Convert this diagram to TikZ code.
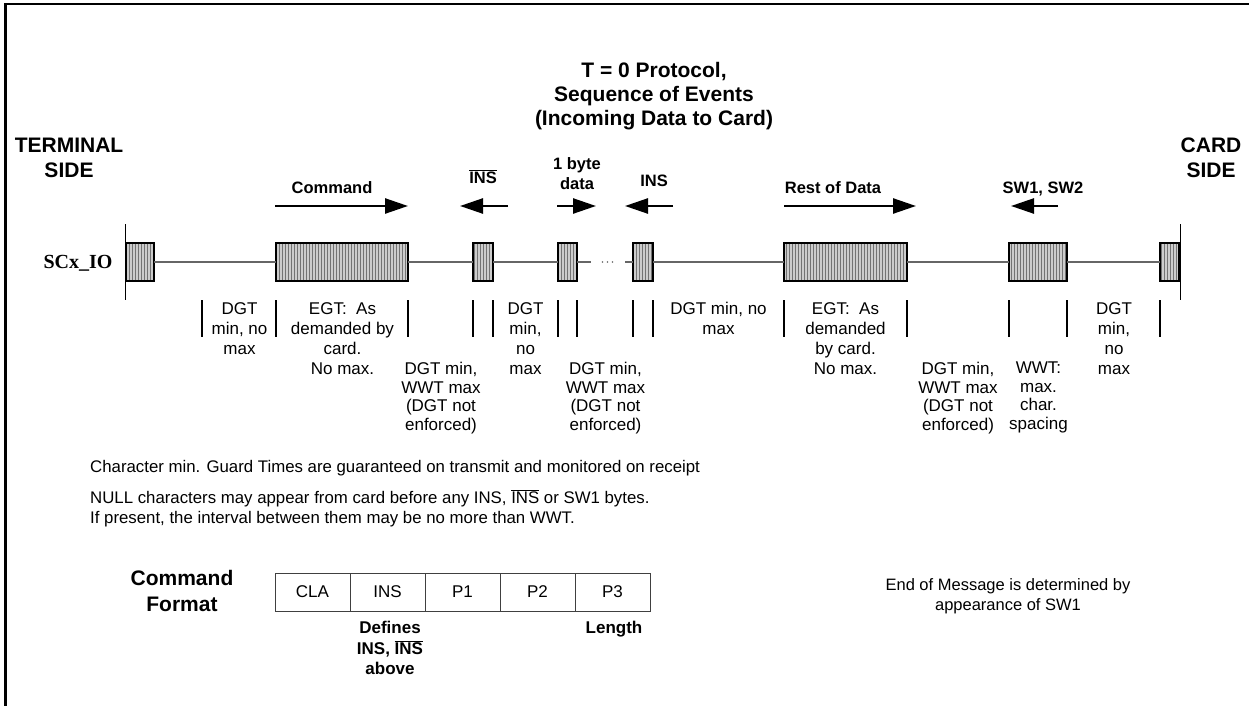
\documentclass[tikz,border=0pt]{standalone}
\usepackage{fontspec}
\setmainfont{Liberation Sans}
\newfontfamily\tmsfont{Liberation Serif}
\usetikzlibrary{arrows.meta,patterns.meta}
\newcommand{\fsz}[2]{\fontsize{#1}{#2}\selectfont}
\newcommand{\ovl}[1]{$\overline{\mbox{#1}}$}
\begin{document}
\begin{tikzpicture}[x=1pt,y=-1pt,
  tl/.style={draw=black!60, line width=1.3},
  databox/.style={draw=black, line width=1.3, inner sep=0, outer sep=0, minimum height=38,
    preaction={fill=black!20}, pattern={Lines[angle=90,distance=3pt,line width=1pt]}, pattern color=black!55},
  sig/.style={line width=2.5, -{Triangle[length=23pt,width=15pt]}},
  tick/.style={line width=1.2},
  blab/.style={font=\bfseries\fsz{16.5}{20}, inner sep=0, align=center},
  ival/.style={font=\fsz{17}{20}, inner sep=0, align=center, anchor=north},
  ivalb/.style={font=\fsz{17}{18.5}, inner sep=0, align=center, anchor=north},
  note/.style={font=\fsz{16.8}{20.5}, inner sep=0, anchor=base west},
  cell/.style={draw=black!75, line width=1, minimum width=75, minimum height=38, inner sep=0, font=\fsz{17}{20}}
]
\useasboundingbox (0,0) rectangle (1249,706);
% frame
\draw[line width=2.2] (5.5,706) -- (5.5,4.3) -- (1249,4.3);

% title
\node[font=\bfseries\fsz{21}{24}, inner sep=0, align=center, anchor=north] (title) at (654,62)
  {T = 0 Protocol,\\Sequence of Events\\(Incoming Data to Card)};
\node[font=\bfseries\fsz{21}{25}, inner sep=0, align=center, anchor=north] (term) at (69,137.5) {TERMINAL\\SIDE};
\node[font=\bfseries\fsz{21}{25}, inner sep=0, align=center, anchor=north] (card) at (1211,137.5) {CARD\\SIDE};
\node[font=\tmsfont\bfseries\fsz{20}{24}, inner sep=0, anchor=base] (scx) at (78,268.6) {SCx\_IO};

% side bars
\coordinate (lbT) at (125,224); \coordinate (lbB) at (125,300);
\coordinate (rbT) at (1180,224); \coordinate (rbB) at (1180,300);
\draw[line width=1] (lbT) -- (lbB);
\draw[line width=1] (rbT) -- (rbB);

% data boxes
\node[databox, minimum width=28] (b1) at (140,262) {};
\node[databox, minimum width=132] (b2) at (342,262) {};
\node[databox, minimum width=20] (b3) at (483,262) {};
\node[databox, minimum width=19] (b4) at (567.5,262) {};
\node[databox, minimum width=20] (b5) at (643,262) {};
\node[databox, minimum width=123] (b6) at (845.5,262) {};
\node[databox, minimum width=58] (b7) at (1038,262) {};
\node[databox, minimum width=19] (b8) at (1169.5,262) {};

% timeline
\coordinate (g1) at (591,262); \coordinate (g2) at (625,262);
\draw[tl] (b1.east) -- (b2.west);
\draw[tl] (b2.east) -- (b3.west);
\draw[tl] (b3.east) -- (b4.west);
\draw[tl] (b4.east) -- (g1);
\draw[tl] (g2) -- (b5.west);
\draw[tl] (b5.east) -- (b6.west);
\draw[tl] (b6.east) -- (b7.west);
\draw[tl] (b7.east) -- (b8.west);
\foreach \x in {602.5,607.5,612.5} \fill[black!60] (\x,262) circle (0.8);

% arrows
\coordinate (a1s) at (275,206); \coordinate (a1e) at (408,206);
\coordinate (a2s) at (508,206); \coordinate (a2e) at (460,206);
\coordinate (a3s) at (557,206); \coordinate (a3e) at (596,206);
\coordinate (a4s) at (673,206); \coordinate (a4e) at (625,206);
\coordinate (a5s) at (784,206); \coordinate (a5e) at (916,206);
\coordinate (a6s) at (1058,206); \coordinate (a6e) at (1011,206);
\draw[sig] (a1s) -- (a1e);
\draw[sig] (a2s) -- (a2e);
\draw[sig] (a3s) -- (a3e);
\draw[sig] (a4s) -- (a4e);
\draw[sig] (a5s) -- (a5e);
\draw[sig] (a6s) -- (a6e);

% arrow labels
\node[blab, anchor=base] (lcmd) at (332,193) {Command};
\node[blab, anchor=base] (lnbar) at (483,183) {\ovl{INS}};
\node[blab, anchor=north] (lbyte) at (577,157) {1 byte\\data};
\node[blab, anchor=base] (lins) at (654,186) {INS};
\node[blab, anchor=base] (lrest) at (833,193) {Rest of Data};
\node[blab, anchor=base] (lsw) at (1043,193) {SW1, SW2};

% ticks
\foreach \x in {202,276,408,473,493,558,577,633,653,784,907,1009,1067,1160}
  \draw[tick] (\x,300) -- (\x,337);

% interval texts
\node[ival] (i1) at (239.5,302) {DGT\\min, no\\max};
\node[ival] (i2) at (342.5,302) {EGT:~~As\\demanded by\\card.\\No max.};
\node[ival] (i3) at (525.5,302) {DGT\\min,\\no\\max};
\node[ival] (i4) at (718.5,302) {DGT min, no\\max};
\node[ival] (i5) at (845.5,302) {EGT:~~As\\demanded\\by card.\\No max.};
\node[ival] (i6) at (1114,302) {DGT\\min,\\no\\max};
\node[ivalb] (j1) at (441,362) {DGT min,\\WWT max\\(DGT not\\enforced)};
\node[ivalb] (j2) at (605.5,362) {DGT min,\\WWT max\\(DGT not\\enforced)};
\node[ivalb] (j3) at (958,362) {DGT min,\\WWT max\\(DGT not\\enforced)};
\node[ivalb] (j4) at (1038.5,362) {WWT:\\max.\\char.\\spacing};

% notes
\node[note] (n1) at (90,472) {Character min. Guard Times are guaranteed on transmit and monitored on receipt};
\node[note] (n2) at (90,503) {NULL characters may appear from card before any INS, \ovl{INS} or SW1 bytes.};
\node[note] (n3) at (90,523.5) {If present, the interval between them may be no more than WWT.};

% command format
\node[font=\bfseries\fsz{21}{26}, inner sep=0, align=center, anchor=north] (cf) at (182,570.5) {Command\\Format};
\node[cell] (c1) at (312.5,592) {CLA};
\node[cell] (c2) at (387.5,592) {INS};
\node[cell] (c3) at (462.5,592) {\raisebox{-3pt}{P1}};
\node[cell] (c4) at (537.5,592) {\raisebox{-3pt}{P2}};
\node[cell] (c5) at (612.5,592) {\raisebox{-3pt}{P3}};
\node[font=\bfseries\fsz{17}{20.5}, inner sep=0, align=center, anchor=north] (def) at (390,621) {Defines\\INS, \ovl{INS}\\above};
\node[font=\bfseries\fsz{17}{20.5}, inner sep=0, anchor=base] (len) at (614,633) {Length};

\node[font=\fsz{16.5}{20}, inner sep=0, align=center, anchor=north] (eom) at (1008,578)
  {End of Message is determined by\\appearance of SW1};
\end{tikzpicture}
\end{document}
